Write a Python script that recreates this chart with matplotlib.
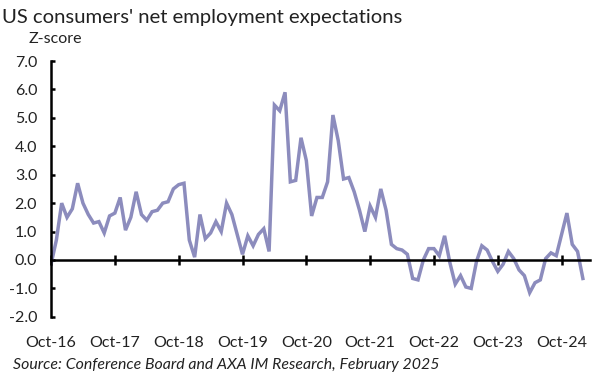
import numpy as np
import matplotlib
matplotlib.use('Agg')
import matplotlib.pyplot as plt

plt.rcParams['font.family'] = ['Lato', 'DejaVu Sans']

# monthly z-score, starting Oct-16
values = [-0.15, 0.7, 2.0, 1.5, 1.8, 2.7, 2.0, 1.6, 1.3, 1.35, 0.95, 1.55,
          1.65, 2.2, 1.05, 1.5, 2.4, 1.6, 1.4, 1.7, 1.75, 2.0, 2.05, 2.5,
          2.65, 2.7, 0.7, 0.1, 1.6, 0.75, 0.95, 1.35, 1.0, 2.0, 1.6, 0.9,
          0.2, 0.85, 0.5, 0.9, 1.1, 0.3, 5.45, 5.25, 5.9, 2.75, 2.8, 4.3,
          3.5, 1.55, 2.2, 2.2, 2.75, 5.1, 4.2, 2.85, 2.9, 2.4, 1.75, 1.0,
          1.9, 1.5, 2.5, 1.75, 0.55, 0.4, 0.35, 0.2, -0.65, -0.7, 0.0, 0.4,
          0.4, 0.15, 0.85, -0.1, -0.85, -0.55, -0.95, -1.0, -0.05, 0.5, 0.35, -0.05,
          -0.4, -0.15, 0.3, 0.05, -0.35, -0.55, -1.15, -0.8, -0.7, 0.05, 0.25, 0.15,
          0.9, 1.65, 0.55, 0.3, -0.65]
tick_labels = ['Oct-16', 'Oct-17', 'Oct-18', 'Oct-19', 'Oct-20', 'Oct-21',
               'Oct-22', 'Oct-23', 'Oct-24']

x = np.arange(len(values))

fig = plt.figure(figsize=(6.15, 3.79), dpi=100)
ax = fig.add_axes([0.083, 0.164, 0.876, 0.675])

ax.plot(x, values, color='#8c8cbd', linewidth=2.5, solid_joinstyle='miter')

ax.set_ylim(-2, 7)
ax.set_xlim(0, 101.3)
ax.set_yticks(np.arange(-2, 8, 1))
ax.set_yticklabels([f'{v:.1f}' for v in np.arange(-2, 8, 1)])
ax.set_xticks(np.arange(0, len(values), 12))
ax.set_xticklabels(tick_labels)

for s in ['top', 'right']:
    ax.spines[s].set_visible(False)
ax.spines['left'].set_linewidth(1.8)
ax.spines['bottom'].set_linewidth(1.8)
# x axis line sits at zero, labels stay at the bottom
ax.spines['bottom'].set_position(('data', 0))

ax.tick_params(axis='y', direction='in', length=3, width=1.8, labelsize=11.5,
               colors='#000000', labelcolor='#222222', pad=10)
ax.tick_params(axis='x', direction='inout', length=7, width=1.8, labelsize=11.5,
               labelcolor='#222222', pad=51)

fig.text(0.003, 0.955, "US consumers' net employment expectations", fontsize=14.6,
         color='#222222', va='center')
fig.text(0.046, 0.897, 'Z-score', fontsize=11.5, color='#222222', va='center')
fig.text(0.021, 0.037, 'Source: Conference Board and AXA IM Research, February 2025',
         fontsize=11.4, style='italic', color='#222222', va='center')

plt.savefig('out.png', dpi=100)
